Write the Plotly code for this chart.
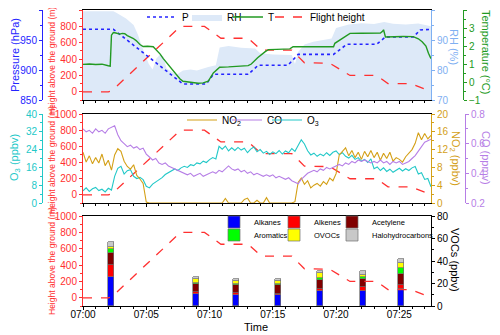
from __future__ import annotations

import pandas as pd
import plotly.graph_objects as go

START = pd.Timestamp("2019-01-01 07:00:00")
END_MIN = 27.5

# ---- panel 1 : flight / meteorology (minutes after 07:00) ----
height_min = [0, 2.0, 2.3, 7.7, 9.6, 10.9, 13.05, 14.1, 16.5, 17.5, 19.5, 21.1, 23.2, 24.1, 25.9, 27.5]
height_m = [0, 0, 15, 800, 800, 655, 655, 510, 510, 355, 350, 200, 200, 100, 100, 5]

p_min = [0, 2.4, 7.9, 9.75, 10.3, 13.05, 13.85, 16.2, 17.0, 19.8, 20.85, 23.2, 23.9, 26.1, 26.65, 27.5]
p_hpa = [967.8, 967.8, 876.7, 876.7, 892.8, 892.8, 908, 908, 926, 926, 942.8, 942.8, 955, 955, 966.7, 967.8]

t_min = [0, 0.5, 1.0, 1.5, 2.0, 2.15, 2.25, 2.4, 2.6, 2.9, 3.1, 3.3, 3.5, 3.95, 4.2, 4.5,
         4.75, 5.1, 5.55, 5.8, 6.1, 6.33, 6.6, 6.86, 7.1, 7.4, 7.65, 7.9, 8.3, 8.7, 9.1,
         9.5, 9.9, 10.3, 10.8, 11.5, 12.2, 13.05, 13.3, 13.8, 14.4, 14.65, 15.3, 16.0,
         16.35, 16.6, 17.2, 17.8, 18.5, 19.2, 19.8, 19.9, 20.4, 20.85, 21.1, 22.0, 22.8,
         23.5, 23.65, 23.75, 23.9, 24.5, 25.3, 26.1, 26.5, 26.8, 27.1, 27.3, 27.5]
t_c = [0.98, 1.0, 0.97, 0.99, 0.9, 0.88, 2.6, 2.75, 2.72, 2.66, 2.7, 2.68, 2.58, 2.43, 2.3, 2.08,
       1.97, 1.99, 1.96, 1.78, 1.55, 1.31, 1.08, 0.85, 0.6, 0.39, 0.18, 0.04, 0.0, -0.03, -0.07,
       -0.05, 0.05, 0.5, 0.82, 0.84, 0.87, 0.91, 1.0, 1.35, 1.69, 1.8, 1.81, 1.82,
       1.84, 1.96, 1.97, 1.98, 1.96, 1.96, 1.96, 2.15, 2.4, 2.61, 2.7, 2.71, 2.72,
       2.72, 2.8, 2.9, 2.5, 2.52, 2.53, 2.52, 2.4, 2.24, 2.0, 1.6, 1.3]

rh_min = [0, 2.4, 2.6, 3.0, 3.4, 4.0, 4.35, 4.6, 4.9, 5.2, 5.5, 5.8, 6.1, 6.35, 6.6, 7.0, 7.4,
          7.9, 8.5, 9.0, 9.5, 9.9, 10.5, 10.8, 11.5, 12.5, 13.6, 14.0, 15.0, 16.5, 16.75,
          17.0, 17.5, 18.2, 19.65, 20.0, 21.0, 22.0, 23.0, 23.8, 24.5, 25.5, 26.5, 27.5]
rh_pct = [99.6, 99.6, 99.2, 98.2, 97.2, 95, 91.7, 88.5, 85, 82, 80.2, 83.8, 85.2, 84.5, 80.5, 79.4, 78.4,
          79.8, 80.2, 79.8, 80.5, 81, 81.6, 87.5, 88, 87.4, 87.2, 85.6, 85.2, 85, 82,
          86, 88.5, 89.4, 90.5, 94, 95.2, 95.6, 95.3, 96, 95.4, 95.2, 95.5, 94.6]

# ---- panel 2 : trace gases, sampled every 15 s ----
gas_min = [i * 0.25 for i in range(111)]
o3_ppbv = [5.5, 6.8, 5.2, 6.4, 7.0, 5.6, 6.2, 5.0, 6.6, 5.8,
           12.0, 15.6, 16.5, 13.0, 14.5, 15.0, 12.0, 11.0, 11.5, 10.5,
           7.5, 6.8, 8.5, 9.5, 10.2, 11.4, 12.8, 13.6, 14.2, 15.3,
           14.6, 15.8, 16.5, 16.0, 17.2, 16.8, 18.0, 17.6, 18.8, 18.2,
           19.5, 20.4, 19.8, 25.5, 24.2, 25.6, 23.4, 24.8, 23.6, 25.0,
           23.8, 24.6, 22.6, 24.2, 25.2, 23.0, 24.0, 22.4, 23.2, 21.8,
           23.0, 22.2, 23.6, 22.0, 23.4, 22.6, 24.5, 23.2, 25.8, 28.4,
           26.5, 23.5, 21.6, 22.4, 21.0, 22.0, 21.2, 22.6, 21.4, 22.8,
           23.4, 21.8, 22.6, 21.0, 20.2, 21.4, 19.6, 20.4, 18.8, 19.6,
           18.2, 19.8, 15.4, 16.2, 14.6, 15.8, 14.2, 15.2, 13.8, 14.8,
           15.6, 14.4, 15.4, 14.6, 15.8, 16.4, 13.0, 13.6, 10.6, 11.0,
           7.3]
no2_ppbv = [11.4, 9.2, 10.6, 8.8, 10.2, 9.0, 11.0, 8.4, 9.6, 7.4,
            10.8, 12.2, 11.6, 9.4, 8.2, 7.6, 8.6, 6.2, 5.4, 4.4,
            0.2, 0, 0, 0, 0, 0, 0, 0, 0, 0,
            0, 0, 0, 0, 0, 0, 0, 0, 0, 0,
            0, 0, 0, 0, 0, 1.0, 0, 0, 0, 0,
            0, 0.8, 1.1, 0, 0, 0.6, 0, 0, 1.2, 0,
            0, 0, 0, 0, 0, 0, 0, 0.3, 4.6, 5.6,
            4.2, 5.0, 3.4, 4.0, 4.4, 3.8, 4.8, 4.2, 5.6, 5.0,
            6.6, 10.8, 11.6, 12.4, 10.6, 11.8, 10.2, 11.4, 9.8, 11.6,
            10.4, 11.8, 10.2, 11.4, 9.6, 11.2, 10.0, 11.4, 9.4, 10.2,
            9.8, 9.2, 10.4, 11.2, 12.0, 13.4, 15.8, 14.2, 15.6, 14.4,
            15.2]
co_ppmv = [0.70, 0.68, 0.69, 0.67, 0.70, 0.68, 0.69, 0.67, 0.70, 0.71,
           0.72, 0.66, 0.62, 0.60, 0.58, 0.59, 0.57, 0.58, 0.56, 0.57,
           0.53, 0.51, 0.49, 0.50, 0.47, 0.46, 0.47, 0.45, 0.44, 0.43,
           0.42, 0.41, 0.40, 0.39, 0.40, 0.38, 0.39, 0.40, 0.38, 0.39,
           0.40, 0.41, 0.40, 0.42, 0.41, 0.43, 0.45, 0.43, 0.42, 0.43,
           0.41, 0.42, 0.40, 0.41, 0.39, 0.40, 0.39, 0.38, 0.39, 0.38,
           0.39, 0.37, 0.38, 0.37, 0.36, 0.37, 0.35, 0.34, 0.33, 0.36,
           0.38, 0.40, 0.41, 0.42, 0.41, 0.43, 0.42, 0.44, 0.43, 0.44,
           0.45, 0.46, 0.45, 0.47, 0.46, 0.48, 0.47, 0.49, 0.48, 0.49,
           0.48, 0.47, 0.48, 0.47, 0.49, 0.47, 0.48, 0.46, 0.48, 0.47,
           0.48, 0.46, 0.47, 0.48, 0.50, 0.52, 0.55, 0.58, 0.61, 0.62,
           0.63]

# ---- panel 3 : VOC canister samples ----
voc_min = [2.2, 8.9, 12.1, 15.4, 18.75, 22.15, 25.1]
voc_groups = ["Alkanes", "Alkenes", "Acetylene", "Aromatics", "OVOCs", "Halohydrocarbons"]
alkanes = [26.0, 10.7, 9.8, 9.5, 13.0, 13.3, 14.8]
alkenes = [10.5, 2.0, 1.5, 1.5, 2.4, 3.2, 3.9]
acetylene = [11.0, 6.5, 7.4, 8.0, 8.0, 7.5, 9.4]
aromatics = [3.0, 1.0, 0.9, 0.9, 1.2, 1.5, 5.4]
ovocs = [2.0, 3.5, 2.4, 2.1, 4.4, 2.4, 4.4]
halo = [4.0, 2.4, 1.8, 1.8, 2.4, 3.0, 3.6]

RED = "#ff3030"
BLUE = "#2424ff"
RH_BLUE = "#7fb0f2"
RH_FILL = "#dde9f8"
GREEN = "#229a22"
CYAN = "#22c8c8"
GOLD = "#d4a017"
PURPLE = "#b67ee6"
FONT = "Arial, Liberation Sans, sans-serif"

# the page body adds an 8 px margin, so screen pixels are shifted by that much
W, H, OFF = 500, 335, 8


def xp(px):
    return (px - OFF) / W


def yp(py):
    return 1 - (py - OFF) / H


def to_time(minutes):
    return [START + pd.Timedelta(minutes=m) for m in minutes]


fig = go.Figure()

# panel 1
fig.add_trace(go.Scatter(x=to_time(rh_min), y=rh_pct, mode="lines", fill="tozeroy",
                         fillcolor=RH_FILL, line={"width": 0, "color": RH_FILL},
                         name="RH", legend="legend2", xaxis="x", yaxis="y"))
fig.add_trace(go.Scatter(x=to_time(p_min), y=p_hpa, mode="lines", name="P", legend="legend",
                         line={"color": BLUE, "dash": "dot", "width": 1.6}, xaxis="x", yaxis="y3"))
fig.add_trace(go.Scatter(x=to_time(t_min), y=t_c, mode="lines", name="T", legend="legend3",
                         line={"color": GREEN, "width": 1.4}, xaxis="x", yaxis="y4"))
fig.add_trace(go.Scatter(x=to_time(height_min), y=height_m, mode="lines", name="Flight height",
                         legend="legend4", line={"color": RED, "dash": "dash", "width": 1.3},
                         xaxis="x", yaxis="y2"))

# panel 2
fig.add_trace(go.Scatter(x=to_time(height_min), y=height_m, mode="lines", showlegend=False,
                         line={"color": RED, "dash": "dash", "width": 1.3}, xaxis="x2", yaxis="y5"))
fig.add_trace(go.Scatter(x=to_time(gas_min), y=no2_ppbv, mode="lines", name="NO<sub>2</sub>",
                         legend="legend5", line={"color": GOLD, "width": 1.1}, xaxis="x2", yaxis="y7"))
fig.add_trace(go.Scatter(x=to_time(gas_min), y=co_ppmv, mode="lines", name="CO",
                         legend="legend6", line={"color": PURPLE, "width": 1.1}, xaxis="x2", yaxis="y8"))
fig.add_trace(go.Scatter(x=to_time(gas_min), y=o3_ppbv, mode="lines", name="O<sub>3</sub>",
                         legend="legend7", line={"color": CYAN, "width": 1.1}, xaxis="x2", yaxis="y6"))

# panel 3
voc_colors = ["#0000ff", "#ff0000", "#800000", "#00ff00", "#ffff00", "#c8c8c8"]
voc_values = [alkanes, alkenes, acetylene, aromatics, ovocs, halo]
for i, (name, color, values) in enumerate(zip(voc_groups, voc_colors, voc_values)):
    fig.add_trace(go.Bar(x=to_time(voc_min), y=values, name=name, width=28000,
                         marker={"color": color, "line": {"color": "#707070", "width": 0.7}},
                         legend=f"legend{8 + i}", xaxis="x3", yaxis="y9"))
fig.add_trace(go.Scatter(x=to_time(height_min), y=height_m, mode="lines", showlegend=False,
                         line={"color": RED, "dash": "dash", "width": 1.3}, xaxis="x3", yaxis="y10"))

X_DOMAIN = [xp(83), xp(431)]
D1 = [yp(100), yp(10)]
D2 = [yp(203), yp(114)]
D3 = [yp(306), yp(216)]

xbase = dict(
    type="date", domain=X_DOMAIN,
    range=[START, START + pd.Timedelta(minutes=END_MIN)],
    showline=True, linecolor="black", linewidth=1, mirror=True,
    ticks="outside", ticklen=3, tickcolor="black", tick0=START, dtick=300000,
    tickformat="%H:%M", tickfont={"size": 10, "color": "black"},
    minor={"dtick": 60000, "ticks": "outside", "ticklen": 2, "tickcolor": "black"},
    showgrid=False, zeroline=False,
)


def yax(color, rng, tickvals, minorvals, **kw):
    d = dict(range=rng, tickvals=tickvals, showline=True, linecolor=color, linewidth=1,
             ticks="outside", ticklen=3, tickcolor=color, tickfont={"size": 10, "color": color},
             minor={"tickvals": minorvals, "ticks": "outside", "ticklen": 2, "tickcolor": color},
             showgrid=False, zeroline=False, automargin=False)
    d.update(kw)
    return d


def leg(text_x, text_y, size):
    # one legend per entry so each one sits where the reference puts it
    return dict(orientation="h", x=xp(text_x - 40), y=yp(text_y),
                xanchor="left", yanchor="middle", bgcolor="rgba(0,0,0,0)",
                borderwidth=0, font={"size": size}, itemwidth=30)


h_ticks = [0, 200, 400, 600, 800, 1000]
h_minor = [-100, 100, 300, 500, 700, 900]

legends = {
    "legend": leg(182, 17, 10),
    "legend2": leg(227, 17, 10),
    "legend3": leg(268, 17, 10),
    "legend4": leg(310, 17, 10),
    "legend5": leg(222, 120, 10),
    "legend6": leg(267, 120, 10),
    "legend7": leg(307, 120, 10),
    "legend8": leg(254, 222, 7.5),
    "legend9": leg(314, 222, 7.5),
    "legend10": leg(372, 222, 7.5),
    "legend11": leg(254, 235, 7.5),
    "legend12": leg(314, 235, 7.5),
    "legend13": leg(372, 235, 7.5),
}

fig.update_layout(
    width=W, height=H,
    margin={"l": 0, "r": 0, "t": 0, "b": 0, "autoexpand": False},
    paper_bgcolor="white", plot_bgcolor="white",
    font={"family": FONT, "size": 10, "color": "black"},
    barmode="stack", bargap=0,
    xaxis=dict(xbase, anchor="y", showticklabels=False),
    xaxis2=dict(xbase, anchor="y5", showticklabels=False),
    xaxis3=dict(xbase, anchor="y9", ticklabelstandoff=-4),
    yaxis=yax(RH_BLUE, [70, 100], [70, 80, 90, 100], [75, 85, 95], domain=D1, anchor="x", side="right"),
    yaxis2=yax(RED, [-100, 1000], h_ticks, h_minor, overlaying="y", anchor="x", side="left"),
    yaxis3=yax(BLUE, [850, 1000], [850, 900, 950, 1000], [875, 925, 975],
               overlaying="y", anchor="free", position=xp(42), side="left"),
    yaxis4=yax(GREEN, [-1, 4], [-1, 0, 1, 2, 3, 4], [-0.5, 0.5, 1.5, 2.5, 3.5],
               overlaying="y", anchor="free", position=xp(463), side="right"),
    yaxis5=yax(RED, [-100, 1000], h_ticks, h_minor, domain=D2, anchor="x2", side="left"),
    yaxis6=yax(CYAN, [0, 40], [0, 8, 16, 24, 32, 40], [4, 12, 20, 28, 36],
               overlaying="y5", anchor="free", position=xp(42), side="left"),
    yaxis7=yax(GOLD, [0, 20], [0, 4, 8, 12, 16, 20], [2, 6, 10, 14, 18],
               overlaying="y5", anchor="x2", side="right"),
    yaxis8=yax(PURPLE, [0.2, 0.8], [0.2, 0.4, 0.6, 0.8], [0.3, 0.5, 0.7],
               overlaying="y5", anchor="free", position=xp(465), side="right"),
    yaxis9=yax("black", [0, 80], [0, 20, 40, 60, 80], [10, 30, 50, 70],
               domain=D3, anchor="x3", side="right"),
    yaxis10=yax(RED, [-100, 1000], h_ticks, h_minor, overlaying="y9", anchor="x3", side="left"),
    **legends,
)

titles = [
    ("Pressure (hPa)", 15, 55, -90, BLUE, 11),
    ("Height above the ground (m)", 52, 61, -90, RED, 8.5),
    ("RH (%)", 454, 47, 90, RH_BLUE, 11),
    ("Temperature (°C)", 486, 52, 90, GREEN, 11),
    ("O<sub>3</sub> (ppbv)", 15, 158, -90, CYAN, 11),
    ("Height above the ground (m)", 52, 160, -90, RED, 8.5),
    ("NO<sub>2</sub> (ppbv)", 455, 158, 90, GOLD, 11),
    ("CO (ppmv)", 486, 158, 90, PURPLE, 11),
    ("Height above the ground (m)", 52, 261, -90, RED, 8.5),
    ("VOCs (ppbv)", 455, 260, 90, "black", 11),
    ("Time", 256, 327, 0, "black", 11),
]
for text, px, py, angle, color, size in titles:
    fig.add_annotation(text=text, x=xp(px), y=yp(py), xref="paper", yref="paper",
                       textangle=angle, showarrow=False, xanchor="center", yanchor="middle",
                       font={"size": size, "color": color})

fig.write_html("out.html")
